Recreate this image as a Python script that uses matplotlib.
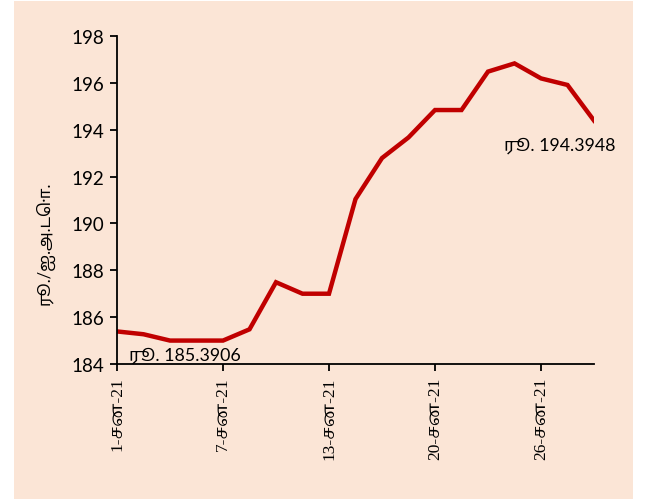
import matplotlib
matplotlib.use("Agg")
import matplotlib.pyplot as plt
from matplotlib.patches import Rectangle

# trading days in January 2021 (rupees per US dollar)
day_labels = ["1-சன-21", "7-சன-21", "13-சன-21", "20-சன-21", "26-சன-21"]
label_idx = [0, 4, 8, 12, 16]
rate = [185.39, 185.27, 185.0, 185.0, 185.0, 185.48, 187.49, 187.0, 187.0,
        191.04, 192.79, 193.67, 194.84, 194.84, 196.48, 196.83, 196.19,
        195.91, 194.39]
first_note = "ரூ. 185.3906"
last_note = "ரூ. 194.3948"
y_title = "ரூ./ஐ.அ.டொ."

sans = ["Lato", "Noto Sans Tamil", "DejaVu Sans"]
serif = ["Liberation Serif", "Noto Serif Tamil", "DejaVu Serif"]

W, H = 648, 502
fig = plt.figure(figsize=(W / 100, H / 100), dpi=100, facecolor="white")
# peach chart area
fig.patches.append(Rectangle((14 / W, 2 / H), (633 - 14) / W, (500 - 2) / H,
                             transform=fig.transFigure, facecolor="#FBE5D6",
                             edgecolor="none", zorder=-5))

ax = fig.add_axes([117 / W, 1 - 365 / H, (594 - 117) / W, (365 - 37) / H])
ax.patch.set_alpha(0)

x = list(range(len(rate)))
ax.plot(x, rate, color="#C00000", linewidth=3.2, solid_joinstyle="miter")

ax.set_xlim(0, len(rate) - 1)
ax.set_ylim(184, 198)
ax.set_yticks(range(184, 199, 2))
ax.set_xticks(label_idx)
ax.set_xticklabels(day_labels, rotation=90, family=serif, fontsize=12.5)
for t in ax.get_yticklabels():
    t.set_family(sans)
    t.set_fontsize(13.5)

for s in ["top", "right"]:
    ax.spines[s].set_visible(False)
for s in ["left", "bottom"]:
    ax.spines[s].set_linewidth(1.3)
ax.tick_params(axis="both", direction="out", length=5, width=1.3, pad=4)

ax.text(0.45, 184.38, first_note, family=sans, fontsize=12.8, va="center", ha="left")
ax.text(14.62, 193.37, last_note, family=sans, fontsize=12.8, va="center", ha="left")

fig.text(45 / W, 1 - 243 / H, y_title, rotation=90, family=sans, fontsize=12,
         ha="center", va="center")

fig.savefig("out.png", dpi=100, facecolor=fig.get_facecolor())
